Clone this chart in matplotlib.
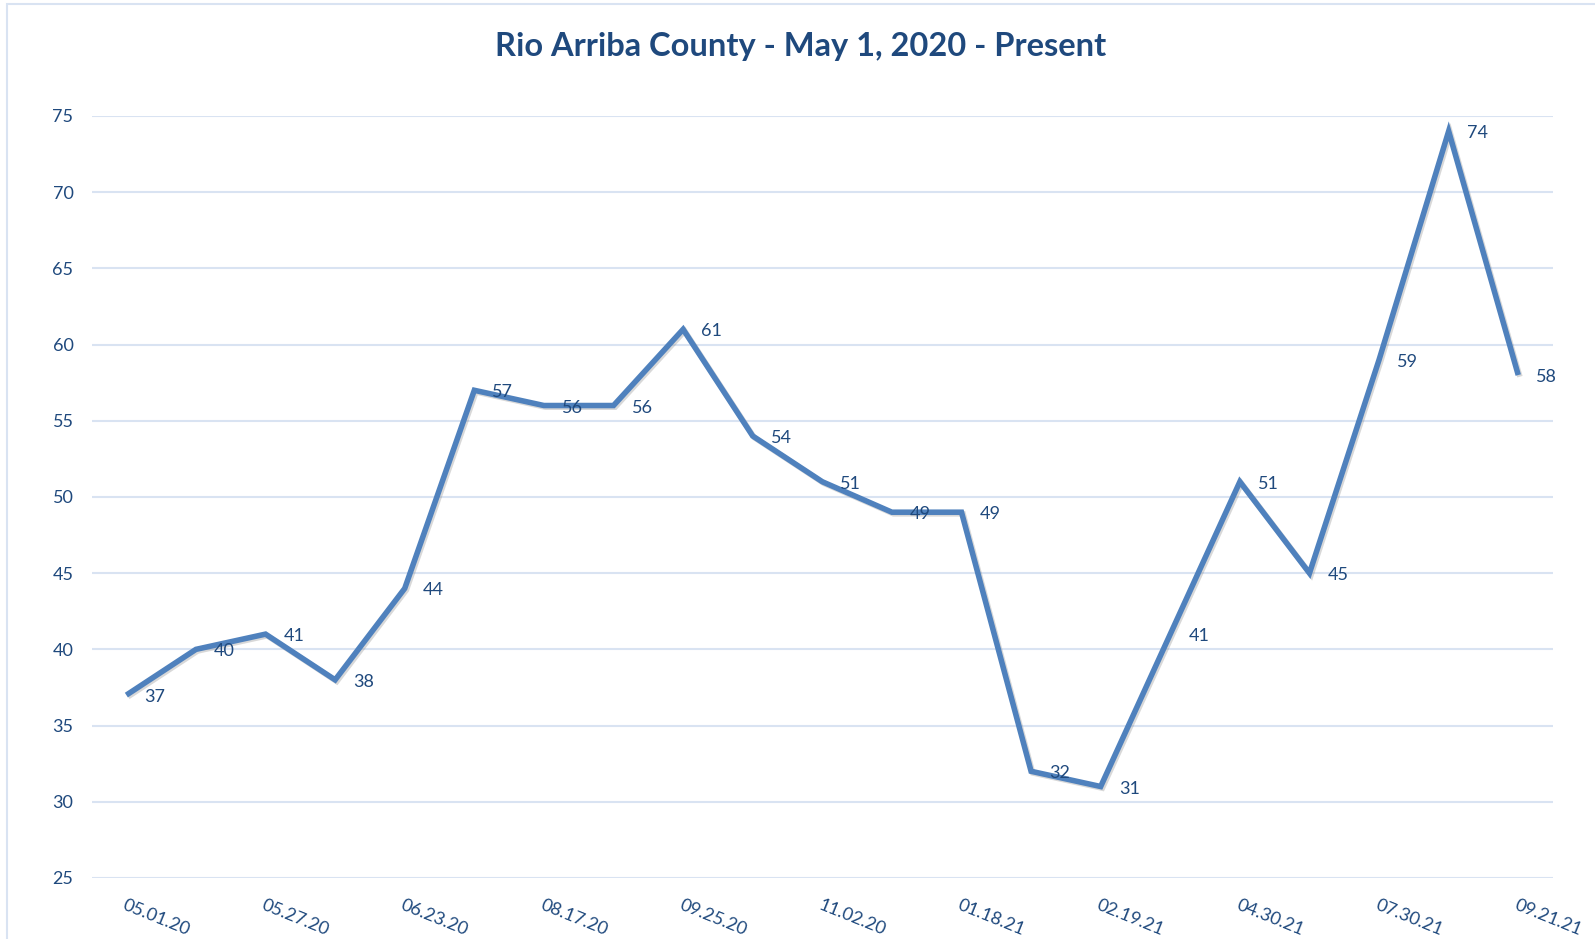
import matplotlib
matplotlib.use("Agg")
import matplotlib.pyplot as plt
import matplotlib.patheffects as pe
from matplotlib.patches import Rectangle

# ---- data ----
dates = ["05.01.20", "", "05.27.20", "", "06.23.20", "", "08.17.20", "", "09.25.20", "",
         "11.02.20", "", "01.18.21", "", "02.19.21", "", "04.30.21", "", "07.30.21", "", "09.21.21"]
values = [37, 40, 41, 38, 44, 57, 56, 56, 61, 54, 51, 49, 49, 32, 31, 41, 51, 45, 59, 74, 58]
title = "Rio Arriba County - May 1, 2020 - Present"
y_ticks = [25, 30, 35, 40, 45, 50, 55, 60, 65, 70, 75]

TEXT = "#1F497D"
LINE = "#4F81BD"
GRID = "#D9E3F2"
FONT = ["Lato", "DejaVu Sans"]

plt.rcParams["font.family"] = FONT

fig = plt.figure(figsize=(15.95, 9.39), dpi=100)
fig.patch.set_facecolor("white")
ax = fig.add_axes([0.0574, 0.065, 0.9163, 0.8115])

x = list(range(len(values)))
ax.plot(x, values, color=LINE, lw=4.0, solid_joinstyle="miter", solid_capstyle="butt", zorder=3,
        path_effects=[pe.SimpleLineShadow(offset=(1.2, -1.2), shadow_color="gray", alpha=0.3),
                      pe.Normal()])

for xi, v in zip(x, values):
    ax.annotate(str(v), (xi, v), xytext=(13, -1.5), textcoords="offset points",
                ha="left", va="center", fontsize=13, color=TEXT, zorder=4)

ax.set_xlim(-0.5, len(values) - 0.5)
ax.set_ylim(25, 75)
ax.set_yticks(y_ticks)
ax.set_yticklabels([str(t) for t in y_ticks])
ax.yaxis.grid(True, color=GRID, lw=1.5)
ax.set_axisbelow(True)
ax.tick_params(axis="y", length=0, pad=13, labelsize=13, labelcolor=TEXT)

tick_pos = [i for i, d in enumerate(dates) if d]
ax.set_xticks(tick_pos)
ax.set_xticklabels([dates[i] for i in tick_pos], rotation=-22, ha="left", va="top",
                   rotation_mode="anchor")
ax.tick_params(axis="x", length=0, pad=14, labelsize=13, labelcolor=TEXT)

for s in ax.spines.values():
    s.set_visible(False)

fig.text(0.502, 0.951, title, ha="center", va="center", fontsize=23.5, fontweight="bold", color=TEXT)

fig.patches.append(Rectangle((0.0044, -0.05), 1.1, 0.9957 + 0.05, transform=fig.transFigure,
                             fill=False, edgecolor=GRID, lw=1.5))

fig.savefig("out.png", dpi=100, facecolor="white")
